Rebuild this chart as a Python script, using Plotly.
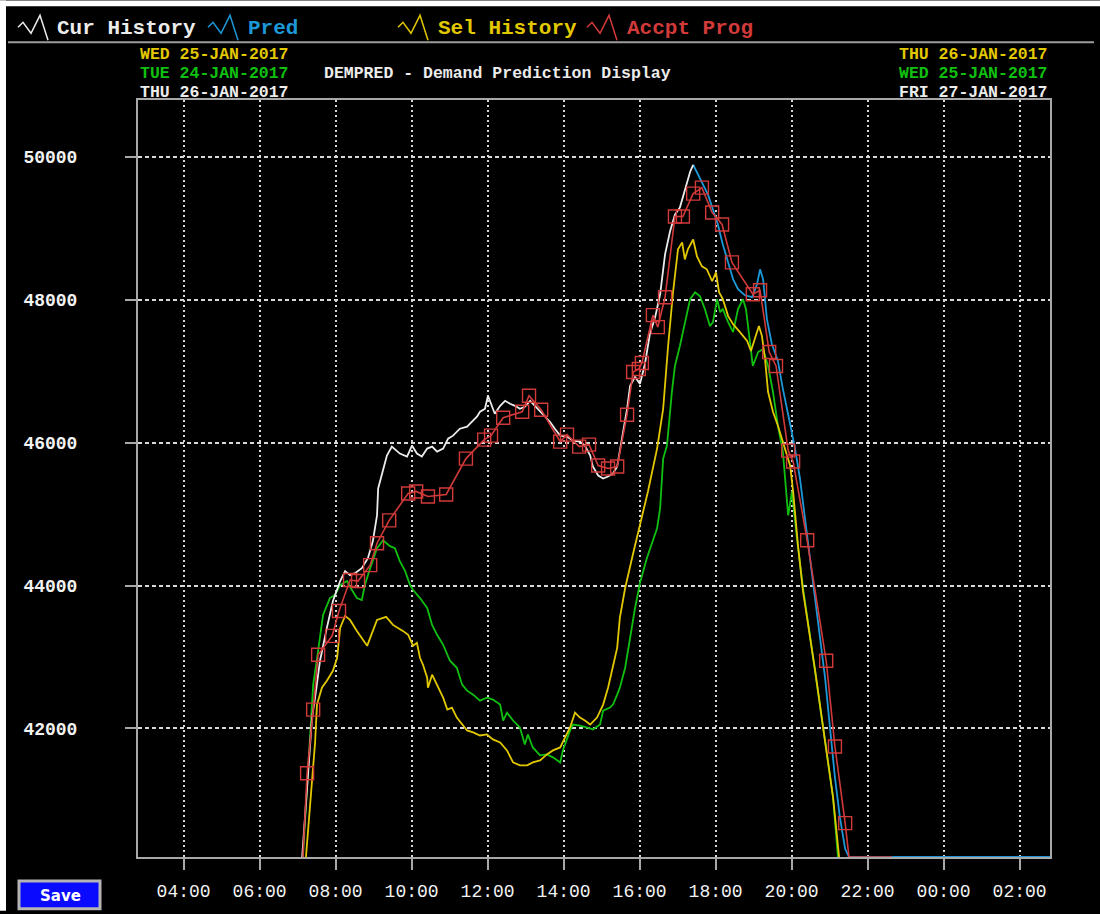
import plotly.graph_objects as go

# ---- scales -------------------------------------------------------------
# time is in decimal hours; values above 24 belong to the next morning
X_RANGE = [2.8, 26.8]
Y_RANGE = [40200, 50800]
Y_FLOOR = 40200          # demand readings at or below the scale floor sit here

tick_hours = [4, 6, 8, 10, 12, 14, 16, 18, 20, 22, 24, 26]
tick_labels = ["04:00", "06:00", "08:00", "10:00", "12:00", "14:00",
               "16:00", "18:00", "20:00", "22:00", "00:00", "02:00"]
demand_ticks = [42000, 44000, 46000, 48000, 50000]

# ---- Cur History (measured demand, today) --------------------------------
cur_hist_t = [7.12, 7.25, 7.38, 7.46, 7.59, 7.77, 7.93, 8.12, 8.25, 8.38, 8.51,
              8.69, 8.85, 8.98, 9.09, 9.12, 9.25, 9.35, 9.48, 9.69, 9.88, 10.01,
              10.14, 10.27, 10.41, 10.54, 10.67, 10.83, 10.96, 11.09, 11.27,
              11.46, 11.59, 11.72, 11.80, 11.93, 12.01, 12.12, 12.19, 12.33,
              12.46, 12.59, 12.72, 12.85, 12.98, 13.12, 13.25, 13.38, 13.51,
              13.64, 13.77, 13.91, 14.09, 14.25, 14.43, 14.56, 14.70, 14.77,
              14.91, 15.04, 15.17, 15.30, 15.41, 15.54, 15.67, 15.75, 15.88,
              16.01, 16.14, 16.27, 16.41, 16.54, 16.67, 16.80, 16.93, 17.06,
              17.19, 17.33, 17.41]
cur_hist_v = [Y_FLOOR, 41176, 42153, 42432, 42948, 43408, 43785, 44064, 44203,
              44147, 44175, 44245, 44384, 44621, 44984, 45361, 45640, 45821,
              45947, 45849, 45807, 45961, 45849, 45807, 45919, 45946, 45877,
              45919, 46058, 46100, 46197, 46225, 46295, 46365, 46435, 46476,
              46658, 46504, 46407, 46518, 46588, 46546, 46518, 46476, 46504,
              46588, 46518, 46435, 46365, 46295, 46197, 46100, 46086, 46030,
              46016, 45961, 45821, 45668, 45542, 45500, 45528, 45570, 45668,
              46058, 46476, 46797, 46923, 46825, 47104, 47522, 47760, 48080,
              48638, 48959, 49196, 49294, 49545, 49796, 49893]

# ---- Pred (demand prediction for the rest of the day) -------------------
pred_t = [17.41, 17.54, 17.67, 17.80, 17.93, 18.06, 18.19, 18.33, 18.46, 18.59,
          18.77, 18.96, 19.09, 19.17, 19.25, 19.35, 19.48, 19.64, 19.77, 19.96,
          20.09, 20.22, 20.35, 20.48, 20.62, 20.75, 20.88, 21.01, 21.14, 21.27,
          21.41, 21.51, 26.80]
pred_v = [49893, 49754, 49615, 49475, 49266, 49057, 48778, 48541, 48290, 48150,
          48066, 48039, 48220, 48429, 48290, 47732, 47383, 47146, 46755, 46267,
          45919, 45500, 44942, 44384, 43826, 43269, 42711, 42013, 41316, 40758,
          40311, Y_FLOOR, Y_FLOOR]

# ---- Sel History (selected comparison day) ------------------------------
sel_hist_t = [7.22, 7.35, 7.46, 7.51, 7.64, 7.77, 7.93, 8.04, 8.12, 8.25, 8.38,
              8.56, 8.83, 8.96, 9.09, 9.33, 9.51, 9.77, 9.91, 10.04, 10.14,
              10.22, 10.30, 10.41, 10.43, 10.54, 10.67, 10.83, 10.94, 11.06,
              11.19, 11.33, 11.46, 11.62, 11.80, 11.98, 12.14, 12.33, 12.51,
              12.67, 12.85, 13.04, 13.19, 13.38, 13.56, 13.72, 13.91, 14.04,
              14.17, 14.30, 14.43, 14.56, 14.70, 14.88, 15.04, 15.17, 15.30,
              15.41, 15.48, 15.62, 15.80, 16.01, 16.22, 16.46, 16.62, 16.75,
              16.88, 17.01, 17.12, 17.19, 17.27, 17.41, 17.51, 17.64, 17.77,
              17.91, 18.01, 18.09, 18.19, 18.33, 18.46, 18.64, 18.83, 18.93,
              19.04, 19.14, 19.22, 19.30, 19.38, 19.51, 19.64, 19.77, 19.96,
              20.04, 20.17, 20.30, 20.48, 20.62, 20.83, 21.09, 21.25]
sel_hist_v = [Y_FLOOR, 41037, 41804, 42334, 42571, 42669, 42808, 42990, 43408,
              43576, 43520, 43366, 43157, 43338, 43520, 43562, 43450, 43366,
              43311, 43157, 43199, 42990, 42892, 42711, 42571, 42753, 42613,
              42432, 42265, 42292, 42153, 42055, 41972, 41944, 41902, 41916,
              41846, 41804, 41693, 41525, 41483, 41483, 41525, 41553, 41637,
              41693, 41734, 41874, 42013, 42222, 42153, 42111, 42055, 42153,
              42334, 42571, 42850, 43129, 43548, 43966, 44384, 44845, 45319,
              45919, 46476, 47355, 48108, 48708, 48806, 48568, 48708, 48847,
              48610, 48471, 48429, 48262, 48387, 48108, 48011, 47774, 47662,
              47550, 47425, 47285, 47453, 47634, 47494, 47174, 46714, 46435,
              46239, 46016, 45682, 45319, 44552, 43924, 43311, 42808, 42013,
              41037, Y_FLOOR]

# ---- second history day ---------------------------------------------------
prev_hist_t = [7.14, 7.27, 7.41, 7.54, 7.67, 7.85, 7.98, 8.12, 8.30, 8.43, 8.56,
               8.69, 8.77, 8.91, 9.09, 9.25, 9.43, 9.56, 9.69, 9.83, 9.96,
               10.04, 10.22, 10.41, 10.54, 10.67, 10.83, 11.01, 11.19, 11.33,
               11.46, 11.62, 11.80, 11.98, 12.14, 12.33, 12.41, 12.51, 12.67,
               12.85, 12.98, 13.06, 13.19, 13.38, 13.56, 13.72, 13.91, 13.98,
               14.17, 14.25, 14.43, 14.62, 14.77, 14.96, 15.04, 15.22, 15.30,
               15.41, 15.48, 15.62, 15.75, 15.88, 16.01, 16.19, 16.46, 16.54,
               16.62, 16.72, 16.85, 16.93, 17.06, 17.19, 17.33, 17.46, 17.59,
               17.72, 17.85, 17.93, 18.04, 18.12, 18.19, 18.33, 18.46, 18.59,
               18.72, 18.80, 18.91, 18.98, 19.12, 19.25, 19.38, 19.51, 19.64,
               19.77, 19.91, 20.01, 20.14, 20.30, 20.48, 20.62, 20.83, 21.09,
               21.22]
prev_hist_v = [Y_FLOOR, 41316, 42613, 43087, 43590, 43826, 43868, 44008, 44064,
               43938, 43826, 43799, 44008, 44245, 44524, 44635, 44552, 44524,
               44343, 44203, 44008, 43938, 43826, 43687, 43450, 43311, 43171,
               42948, 42850, 42613, 42529, 42473, 42390, 42432, 42404, 42334,
               42111, 42222, 42111, 42013, 41776, 41916, 41734, 41623, 41637,
               41595, 41525, 41693, 41972, 42055, 42041, 42013, 41986, 42055,
               42250, 42292, 42334, 42473, 42571, 42850, 43269, 43687, 44036,
               44384, 44803, 45082, 45779, 45961, 46714, 47076, 47355, 47690,
               48011, 48108, 48052, 47871, 47634, 47690, 48011, 47829, 47871,
               47690, 47550, 47871, 48011, 47871, 47355, 47076, 47271, 47313,
               47076, 46714, 46239, 45877, 44984, 45319, 44663, 43966, 43311,
               42808, 42013, 41037, Y_FLOOR]

# ---- Accpt Prog (accepted prognosis, marked points) --------------------
accpt_t = [7.25, 7.41, 7.54, 7.91, 8.09, 8.38, 8.59, 8.91, 9.09, 9.41, 9.91,
           10.12, 10.43, 10.91, 11.43, 11.91, 12.09, 12.41, 12.91, 13.09, 13.41,
           13.91, 14.09, 14.41, 14.67, 14.91, 15.17, 15.41, 15.67, 15.83, 15.98,
           16.06, 16.35, 16.48, 16.67, 16.93, 17.14, 17.41, 17.64, 17.91, 18.17,
           18.43, 18.98, 19.17, 19.41, 19.59, 19.91, 20.04, 20.41, 20.91, 21.14,
           21.41]
accpt_v = [41372, 42264, 43032, 43297, 43645, 44078, 44064, 44287, 44594, 44914,
           45291, 45319, 45249, 45277, 45779, 46044, 46100, 46351, 46435, 46658,
           46462, 46016, 46114, 45947, 45974, 45681, 45640, 45668, 46393, 46992,
           47034, 47118, 47787, 47620, 48038, 49168, 49168, 49489, 49573, 49224,
           49057, 48527, 48080, 48136, 47271, 47076, 45891, 45737, 44635, 42948,
           41748, 40675]
# unmarked ends of the prognosis line
accpt_lead_t, accpt_lead_v = [7.14], [Y_FLOOR]
accpt_tail_t, accpt_tail_v = [21.51, 22.64], [Y_FLOOR, Y_FLOOR]

# ---- colours -------------------------------------------------------------
WHITE = "#ececec"
BLUE = "#1c98d8"
YELLOW = "#e2c800"
GREEN = "#10c010"
RED = "#d23a3a"
GRID = "#d8d8d8"
FRAME = "#a8a8a8"
MONO = "Liberation Mono"

# plot area in page pixels
PL, PR, PT, PB = 138, 1050, 100, 860


def px(x):
    return (x - PL) / (PR - PL)


def py(y):
    return (PB - y) / (PB - PT)


fig = go.Figure()

fig.add_trace(go.Scatter(x=pred_t, y=pred_v, mode="lines",
                         line=dict(color=BLUE, width=1.8), hoverinfo="skip"))
fig.add_trace(go.Scatter(x=prev_hist_t, y=prev_hist_v, mode="lines",
                         line=dict(color=GREEN, width=1.8), hoverinfo="skip"))
fig.add_trace(go.Scatter(x=sel_hist_t, y=sel_hist_v, mode="lines",
                         line=dict(color=YELLOW, width=1.8), hoverinfo="skip"))
fig.add_trace(go.Scatter(x=cur_hist_t, y=cur_hist_v, mode="lines",
                         line=dict(color=WHITE, width=1.8), hoverinfo="skip"))
fig.add_trace(go.Scatter(x=accpt_lead_t + accpt_t + accpt_tail_t,
                         y=accpt_lead_v + accpt_v + accpt_tail_v, mode="lines",
                         line=dict(color=RED, width=1.6), hoverinfo="skip"))
fig.add_trace(go.Scatter(x=accpt_t, y=accpt_v, mode="markers",
                         marker=dict(symbol="square-open", size=13,
                                     color=RED, line=dict(width=1.4, color=RED)),
                         hoverinfo="skip"))

fig.update_xaxes(range=X_RANGE, tickmode="array", tickvals=tick_hours,
                 ticktext=tick_labels, showgrid=True, gridcolor=GRID,
                 griddash="2px,3px", gridwidth=1.5, zeroline=False,
                 showline=True, linecolor=FRAME, linewidth=2, mirror=True,
                 ticks="outside", ticklen=11, tickwidth=1.5, tickcolor=FRAME,
                 ticklabelstandoff=5,
                 tickfont=dict(family=MONO, size=18, color="#f2f2f2"))
fig.update_yaxes(range=Y_RANGE, tickmode="array", tickvals=demand_ticks,
                 ticktext=[str(v) for v in demand_ticks], showgrid=True,
                 gridcolor=GRID, griddash="4px,3px", gridwidth=1.5,
                 zeroline=False, showline=True, linecolor=FRAME, linewidth=2,
                 mirror=True, ticks="outside", ticklen=11, tickwidth=1.5,
                 tickcolor=FRAME, ticklabelstandoff=44,
                 tickfont=dict(family=MONO, size=18, color="#f2f2f2",
                               weight="bold"))

annotations = []
shapes = []

# header: legend row
legend_items = [
    ("Cur History", WHITE, 18, 55),
    ("Pred", BLUE, 208, 246),
    ("Sel History", YELLOW, 398, 436),
    ("Accpt Prog", RED, 587, 625),
]
for label, colour, icon_x, text_x in legend_items:
    pts = [(icon_x, 27), (icon_x + 5, 22), (icon_x + 13, 33),
           (icon_x + 22, 15), (icon_x + 30, 40)]
    path = "M " + " L ".join(f"{px(a):.5f},{py(b):.5f}" for a, b in pts)
    shapes.append(dict(type="path", path=path, xref="paper", yref="paper",
                       line=dict(color=colour, width=1.5), layer="above"))
    annotations.append(dict(text=label, x=px(text_x), y=py(28), xref="paper",
                            yref="paper", xanchor="left", yanchor="middle",
                            showarrow=False,
                            font=dict(family=MONO, size=21, color=colour,
                                      weight="bold")))

# separator under the legend row
shapes.append(dict(type="line", xref="paper", yref="paper", x0=px(8), x1=px(1094),
                   y0=py(42), y1=py(42), line=dict(color="#9c9c9c", width=2)))

# date captions: three tight rows above the plot frame
HEAD_SIZE = 16.5
row_y = [54, 73, 92]
left_dates = [("WED 25-JAN-2017", YELLOW), ("TUE 24-JAN-2017", GREEN),
              ("THU 26-JAN-2017", WHITE)]
right_dates = [("THU 26-JAN-2017", YELLOW), ("WED 25-JAN-2017", GREEN),
               ("FRI 27-JAN-2017", WHITE)]
for (text, colour), y in zip(left_dates, row_y):
    annotations.append(dict(text=text, x=px(138), y=py(y), xref="paper",
                            yref="paper", xanchor="left", yanchor="middle",
                            showarrow=False,
                            font=dict(family=MONO, size=HEAD_SIZE, color=colour,
                                      weight="bold")))
for (text, colour), y in zip(right_dates, row_y):
    annotations.append(dict(text=text, x=px(1050), y=py(y), xref="paper",
                            yref="paper", xanchor="right", yanchor="middle",
                            showarrow=False,
                            font=dict(family=MONO, size=HEAD_SIZE, color=colour,
                                      weight="bold")))
annotations.append(dict(text="DEMPRED - Demand Prediction Display", x=px(322),
                        y=py(row_y[1]), xref="paper", yref="paper",
                        xanchor="left", yanchor="middle", showarrow=False,
                        font=dict(family=MONO, size=HEAD_SIZE, color=WHITE,
                                  weight="bold")))

# Save button
shapes.append(dict(type="rect", xref="paper", yref="paper", x0=px(19), x1=px(100),
                   y0=py(912), y1=py(884), fillcolor="#0a0aff",
                   line=dict(color="#b4b4b4", width=3)))
annotations.append(dict(text="Save", x=px(60), y=py(899), xref="paper",
                        yref="paper", xanchor="center", yanchor="middle",
                        showarrow=False,
                        font=dict(family="DejaVu Sans", size=15, color="white",
                                  weight="bold")))

# window edges
shapes.append(dict(type="rect", xref="paper", yref="paper", x0=px(0), x1=px(6),
                   y0=py(914), y1=py(0), fillcolor="white", line=dict(width=0)))
shapes.append(dict(type="rect", xref="paper", yref="paper", x0=px(0), x1=px(1100),
                   y0=py(6), y1=py(0), fillcolor="white", line=dict(width=0)))

fig.update_layout(width=1100, height=914,
                  margin=dict(l=PL, r=1100 - PR, t=PT, b=914 - PB),
                  paper_bgcolor="black", plot_bgcolor="black",
                  showlegend=False, annotations=annotations, shapes=shapes)

fig.write_html("out.html")
